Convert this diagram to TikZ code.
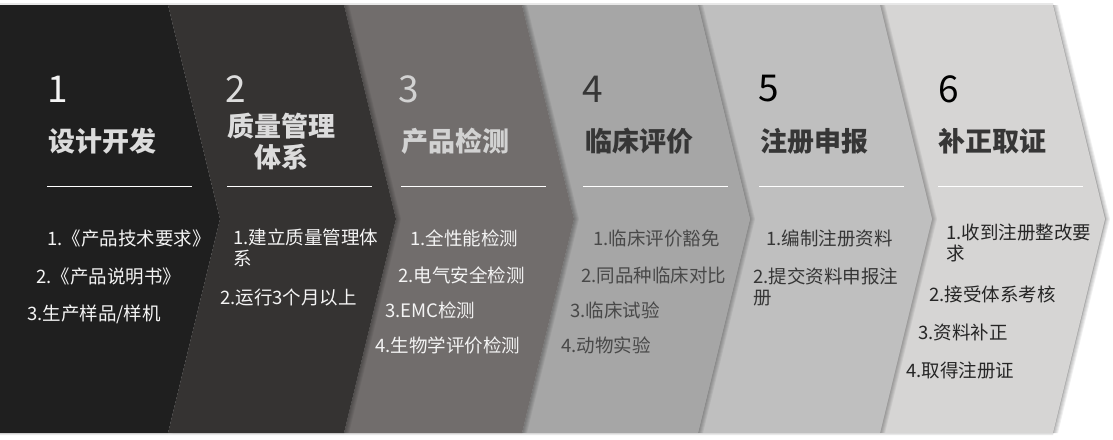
\documentclass[tikz,border=0pt]{standalone}
\usepackage{fontspec}
\setmainfont{Noto Sans CJK SC}
\definecolor{s1}{HTML}{1F1F1F}
\definecolor{s2}{HTML}{353332}
\definecolor{s3}{HTML}{716D6C}
\definecolor{s4}{HTML}{A6A6A6}
\definecolor{s5}{HTML}{BFBFBF}
\definecolor{s6}{HTML}{D6D5D4}
\definecolor{halo}{HTML}{E8E8E8}
\definecolor{tw}{HTML}{F4F4F4}
\definecolor{tl}{HTML}{DCDCDC}
\definecolor{tm}{HTML}{D2D2D2}
\definecolor{td}{HTML}{363636}
\definecolor{ti}{HTML}{484848}
\definecolor{tk}{HTML}{262626}
\begin{document}
\begin{tikzpicture}[x=1pt,y=-1pt,
  num/.style={anchor=west,inner sep=0pt,font=\fontsize{37}{40}\selectfont},
  ttl/.style={anchor=west,inner sep=0pt,font=\bfseries\fontsize{27}{31}\selectfont},
  itm/.style={anchor=west,inner sep=0pt,align=left,font=\fontsize{18.5}{21}\selectfont},
  sepline/.style={draw=white,line width=0.9pt}]
\useasboundingbox (0,0) rectangle (1113,439);
\fill[white] (0,0) rectangle (1113,439);
% soft halo around the whole band
\fill[halo] (0,3) -- (1053,3) -- (1106,219) -- (1053,435) -- (0,435) -- cycle;
% chevrons, drawn from right to left so that each casts its shadow on the next
\foreach \l/\r/\c in {880/1053/s6,698/880/s5,522/698/s4,344/522/s3,168/344/s2}{
  \foreach \s in {1,2,3,4,5}{
    \fill[black,opacity=0.06,xshift=\s pt] (\l,5) -- (\r,5) -- (\r+52,219) -- (\r,433) -- (\l,433) -- (\l+52,219) -- cycle;
  }
  \fill[\c] (\l,5) -- (\r,5) -- (\r+52,219) -- (\r,433) -- (\l,433) -- (\l+52,219) -- cycle;
}
\fill[s1] (0,5) -- (168,5) -- (220,219) -- (168,433) -- (0,433) -- cycle;
% step numbers
\node[num,text=tw] (n1) at (47,89) {1};
\node[num,text=tl] (n2) at (225,89) {2};
\node[num,text=tm] (n3) at (398,89) {3};
\node[num,text=td] (n4) at (582,89) {4};
\node[num,text=black] (n5) at (758,89) {5};
\node[num,text=black] (n6) at (938,89) {6};
% titles
\node[ttl,text=tl] (t1) at (48,141) {设计开发};
\node[ttl,text=tl,anchor=center,align=center] (t2) at (281,142) {质量管理\\体系};
\node[ttl,text=tm] (t3) at (401,141) {产品检测};
\node[ttl,text=td] (t4) at (585,141) {临床评价};
\node[ttl,text=td] (t5) at (760,141) {注册申报};
\node[ttl,text=td] (t6) at (938,141) {补正取证};
% separators
\draw[sepline] (47,186) -- (192,186);
\draw[sepline] (227,186) -- (372,186);
\draw[sepline] (401,186) -- (546,186);
\draw[sepline] (583,186) -- (728,186);
\draw[sepline] (759,186) -- (904,186);
\draw[sepline] (938,186) -- (1083,186);
% column 1
\node[itm,text=tw] (a1) at (47,238) {1.《产品技术要求》};
\node[itm,text=tw] (a2) at (36,276) {2.《产品说明书》};
\node[itm,text=tw] (a3) at (27,314) {3.生产样品/样机};
% column 2
\node[itm,text=tw] (b1) at (233,248) {1.建立质量管理体\\系};
\node[itm,text=tw] (b2) at (220,298) {2.运行3个月以上};
% column 3
\node[itm,text=tw] (c1) at (410,238) {1.全性能检测};
\node[itm,text=tw] (c2) at (398,275) {2.电气安全检测};
\node[itm,text=tw] (c3) at (385,310) {3.EMC检测};
\node[itm,text=tw] (c4) at (375,345) {4.生物学评价检测};
% column 4
\node[itm,text=ti] (d1) at (593,238) {1.临床评价豁免};
\node[itm,text=ti] (d2) at (581,275) {2.同品种临床对比};
\node[itm,text=ti] (d3) at (570,310) {3.临床试验};
\node[itm,text=ti] (d4) at (561,345) {4.动物实验};
% column 5
\node[itm,text=td] (e1) at (766,238) {1.编制注册资料};
\node[itm,text=td] (e2) at (753,287) {2.提交资料申报注\\册};
% column 6
\node[itm,text=tk] (f1) at (946,243) {1.收到注册整改要\\求};
\node[itm,text=tk] (f2) at (929,294) {2.接受体系考核};
\node[itm,text=tk] (f3) at (918,332) {3.资料补正};
\node[itm,text=tk] (f4) at (906,370) {4.取得注册证};
\end{tikzpicture}
\end{document}
